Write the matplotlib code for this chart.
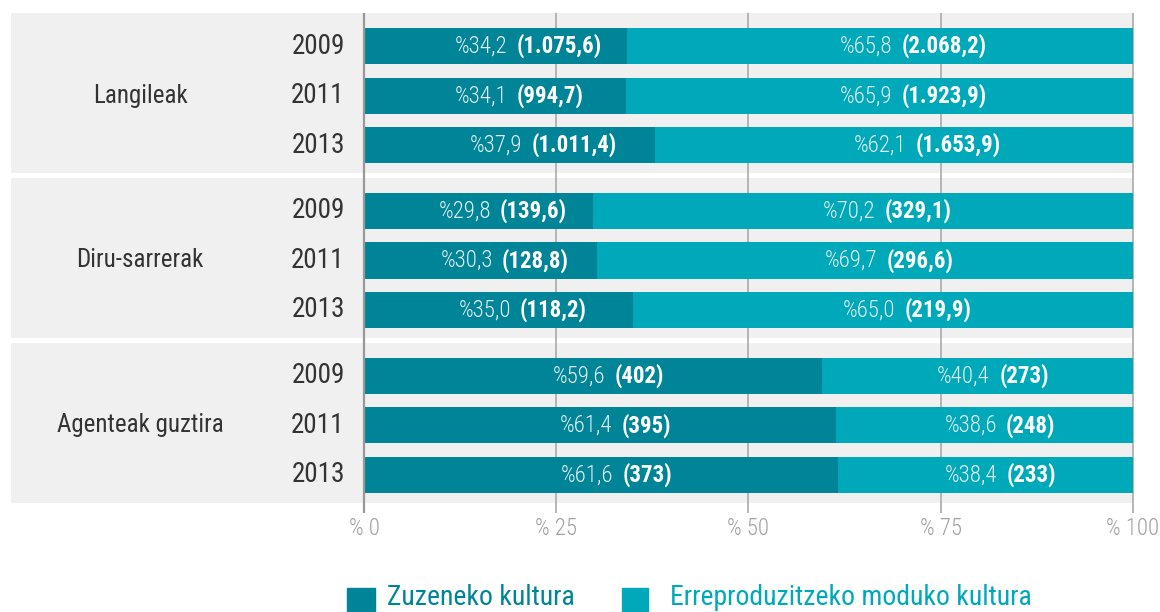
import numpy as np
import matplotlib
matplotlib.use("Agg")
import matplotlib.pyplot as plt
from matplotlib import font_manager as fm
from matplotlib.patches import Rectangle

groups = ["Langileak", "Diru-sarrerak", "Agenteak guztira"]
years = ["2009", "2011", "2013"]
pct_direct = [34.2, 34.1, 37.9, 29.8, 30.3, 35.0, 59.6, 61.4, 61.6]
pct_repro = [65.8, 65.9, 62.1, 70.2, 69.7, 65.0, 40.4, 38.6, 38.4]
amount_direct = [1075.6, 994.7, 1011.4, 139.6, 128.8, 118.2, 402, 395, 373]
amount_repro = [2068.2, 1923.9, 1653.9, 329.1, 296.6, 219.9, 273, 248, 233]
amount_decimals = [1, 1, 1, 1, 1, 1, 0, 0, 0]
series = ["Zuzeneko kultura", "Erreproduzitzeko moduko kultura"]
xticks = [0, 25, 50, 75, 100]

DARK = "#008497"
LIGHT = "#00A9BA"
PANEL = "#F0F0F0"
GRID = "#AAAAAA"

# pick a narrow face if there is one
fonts = {(f.name, f.stretch) for f in fm.fontManager.ttflist}
names = {n for n, _ in fonts}
if "Roboto Condensed" in names:
    FAM, STRETCH, K = "Roboto Condensed", "normal", 1.0
elif "Liberation Sans Narrow" in names:
    FAM, STRETCH, K = "Liberation Sans Narrow", "normal", 1.0
elif ("DejaVu Sans", "condensed") in fonts:
    FAM, STRETCH, K = "DejaVu Sans", "condensed", 0.82
else:
    FAM, STRETCH, K = "Liberation Sans", "normal", 0.85
plt.rcParams["font.family"] = [FAM, "DejaVu Sans"]
plt.rcParams["font.stretch"] = STRETCH


def fmt(v, d):
    s = f"{v:,.{d}f}"
    return s.replace(",", "X").replace(".", ",").replace("X", ".")


fig = plt.figure(figsize=(11.6, 6.12), dpi=100)
ax = fig.add_axes([11 / 1160, 1 - 503 / 612, 1122 / 1160, 490 / 612])

gap = 3.33
pos = np.array([g * gap + i for g in range(3) for i in range(3)])
top, bottom = -0.67, 2 * gap + 2.57
ax.set_xlim(-45.9, 100)
ax.set_ylim(bottom, top)

for g in range(3):
    ax.axhspan(g * gap - 0.67, g * gap + 2.57, color=PANEL, lw=0, zorder=0)

ax.vlines([25, 50, 75, 100], top, bottom + 0.2, color=GRID, lw=1.2, zorder=1, clip_on=False)
ax.vlines([0], top, bottom + 0.2, color="#999999", lw=1.6, zorder=3, clip_on=False)

ax.barh(pos, pct_direct, height=0.73, color=DARK, zorder=2)
ax.barh(pos, pct_repro, left=pct_direct, height=0.73, color=LIGHT, zorder=2)

for i, y in enumerate(pos):
    segs = [(0, pct_direct[i], amount_direct[i]), (pct_direct[i], pct_repro[i], amount_repro[i])]
    for left, w, amt in segs:
        c = left + w / 2 + 2.2
        ax.text(c - 0.6, y, "%" + fmt(w, 1), ha="right", va="center", color="#E4F2F4",
                fontsize=16.5 * K, fontweight="light", zorder=4)
        ax.text(c + 0.6, y, f"({fmt(amt, amount_decimals[i])})", ha="left", va="center",
                color="white", fontsize=16.5 * K, fontweight="bold", zorder=4)
    ax.text(-2.5, y, years[i % 3], ha="right", va="center", color="#333333", fontsize=19.5 * K)

for g, name in enumerate(groups):
    ax.text(-29.1, g * gap + 1, name, ha="center", va="center", color="#333333", fontsize=18 * K)

ax.set_xticks(xticks)
ax.set_xticklabels([f"% {t}" for t in xticks], color="#A0A0A0", fontsize=16.5 * K,
                   fontweight="light")
ax.tick_params(axis="x", length=0, pad=10)
ax.set_yticks([])
for s in ax.spines.values():
    s.set_visible(False)

# legend along the bottom edge
fig.patches.append(Rectangle((347 / 1160, 0), 28 / 1160, 24 / 612, transform=fig.transFigure,
                             color=DARK))
fig.patches.append(Rectangle((622 / 1160, 0), 26 / 1160, 24 / 612, transform=fig.transFigure,
                             color=LIGHT))
fig.text(387 / 1160, 7 / 612, series[0], color=DARK, fontsize=20 * K, va="baseline")
fig.text(670 / 1160, 7 / 612, series[1], color=LIGHT, fontsize=20 * K, va="baseline")

fig.savefig("out.png", dpi=100)
